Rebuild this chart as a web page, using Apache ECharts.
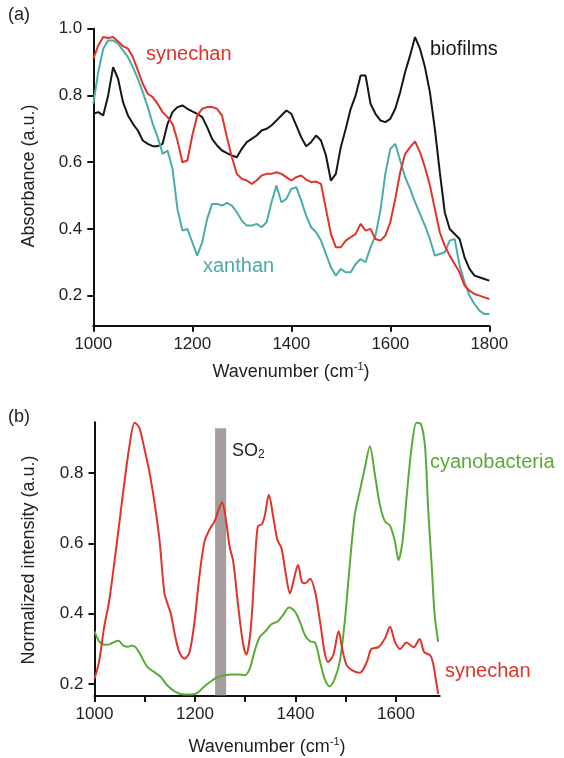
<!DOCTYPE html>
<html>
<head>
<meta charset="UTF-8">
<title>spectra</title>
<script src="https://cdn.jsdelivr.net/npm/echarts@6/dist/echarts.min.js"></script>
<style>
  html, body { margin: 0; padding: 0; background: #fff; }
  #main { width: 564px; height: 758px; }
</style>
</head>
<body>
<div id="main"></div>
<script>
// panel (a): absorbance, sampled every 10 cm-1
var absWn = [1000,1010,1020,1030,1040,1050,1060,1070,1080,1090,
  1100,1110,1120,1130,1140,1150,1160,1170,1180,1190,
  1200,1210,1220,1230,1240,1250,1260,1270,1280,1290,
  1300,1310,1320,1330,1340,1350,1360,1370,1380,1390,
  1400,1410,1420,1430,1440,1450,1460,1470,1480,1490,
  1500,1510,1520,1530,1540,1550,1560,1570,1580,1590,
  1600,1610,1620,1630,1640,1650,1660,1670,1680,1690,
  1700,1710,1720,1730,1740,1750,1760,1770,1780,1790,1800];
var biofilms = [0.745,0.75,0.74,0.80,0.885,0.85,0.78,0.74,0.715,0.695,
  0.665,0.655,0.648,0.648,0.655,0.715,0.75,0.765,0.77,0.76,
  0.752,0.745,0.735,0.705,0.67,0.65,0.635,0.627,0.62,0.615,
  0.64,0.66,0.67,0.68,0.695,0.70,0.71,0.725,0.74,0.755,
  0.745,0.71,0.675,0.648,0.66,0.68,0.665,0.62,0.545,0.565,
  0.645,0.70,0.76,0.80,0.86,0.86,0.775,0.745,0.725,0.72,
  0.73,0.76,0.81,0.87,0.92,0.975,0.94,0.885,0.81,0.70,
  0.57,0.45,0.40,0.385,0.37,0.315,0.28,0.26,0.255,0.25,0.245];
var synechanA = [0.91,0.95,0.975,0.972,0.975,0.962,0.948,0.94,0.915,0.875,
  0.835,0.805,0.795,0.775,0.75,0.735,0.715,0.665,0.60,0.605,
  0.68,0.74,0.76,0.765,0.765,0.76,0.74,0.675,0.615,0.565,
  0.55,0.545,0.535,0.545,0.56,0.565,0.565,0.57,0.565,0.555,
  0.545,0.555,0.56,0.548,0.54,0.542,0.535,0.46,0.385,0.345,
  0.345,0.365,0.375,0.385,0.415,0.395,0.40,0.37,0.365,0.38,
  0.42,0.49,0.57,0.625,0.645,0.662,0.63,0.585,0.53,0.46,
  0.39,0.35,0.32,0.295,0.27,0.23,0.215,0.205,0.20,0.195,0.19];
var xanthan = [0.775,0.87,0.94,0.965,0.965,0.955,0.935,0.915,0.885,0.85,
  0.81,0.765,0.715,0.675,0.625,0.635,0.58,0.46,0.395,0.40,
  0.36,0.32,0.36,0.43,0.475,0.475,0.47,0.478,0.47,0.45,
  0.425,0.41,0.41,0.415,0.405,0.42,0.48,0.53,0.48,0.49,
  0.52,0.525,0.485,0.44,0.405,0.39,0.365,0.325,0.285,0.26,
  0.28,0.27,0.27,0.295,0.31,0.30,0.345,0.38,0.455,0.565,
  0.64,0.655,0.605,0.555,0.52,0.48,0.445,0.41,0.37,0.32,
  0.325,0.33,0.365,0.37,0.29,0.24,0.20,0.175,0.155,0.145,0.145];

// panel (b): normalized intensity, read at uneven positions
var synechanBWn = [1000,1009,1019,1029,1039,1049,1059,1069,1080,1089,1099,1109,1119,1129,1139,1145,1152,1160,1169,1179,1189,1199,1209,1219,1229,1239,1248,1254,1262,1269,1276,1285,1295,1302,1311,1319,1325,1333,1339,1347,1355,1364,1372,1380,1389,1397,1405,1413,1420,1429,1439,1449,1458,1465,1475,1486,1493,1502,1513,1528,1542,1551,1565,1578,1588,1598,1608,1621,1635,1647,1656,1668,1674,1679,1684];
var synechanB = [0.215,0.263,0.36,0.435,0.54,0.653,0.768,0.872,0.944,0.93,0.872,0.806,0.72,0.615,0.46,0.43,0.40,0.34,0.29,0.272,0.29,0.377,0.51,0.606,0.64,0.663,0.70,0.718,0.663,0.59,0.55,0.434,0.32,0.284,0.358,0.54,0.649,0.655,0.68,0.739,0.682,0.61,0.587,0.52,0.458,0.50,0.539,0.49,0.487,0.50,0.463,0.377,0.29,0.263,0.282,0.35,0.30,0.253,0.239,0.232,0.263,0.30,0.305,0.33,0.363,0.32,0.30,0.318,0.305,0.328,0.291,0.282,0.258,0.215,0.172];
var cyanoWn = [1000,1010,1020,1030,1040,1048,1057,1066,1075,1083,1092,1105,1119,1132,1145,1162,1179,1192,1205,1219,1232,1245,1259,1272,1289,1299,1309,1319,1329,1342,1352,1365,1375,1387,1399,1409,1419,1429,1439,1449,1458,1468,1478,1488,1498,1508,1518,1528,1538,1548,1558,1568,1578,1588,1598,1605,1613,1621,1631,1641,1650,1658,1664,1671,1677,1684];
var cyano = [0.35,0.32,0.312,0.313,0.32,0.323,0.31,0.306,0.31,0.303,0.282,0.249,0.234,0.22,0.196,0.177,0.17,0.17,0.175,0.194,0.208,0.22,0.225,0.227,0.227,0.225,0.244,0.296,0.334,0.353,0.37,0.379,0.396,0.418,0.406,0.377,0.339,0.322,0.318,0.263,0.215,0.194,0.215,0.263,0.377,0.539,0.682,0.749,0.815,0.877,0.796,0.71,0.663,0.651,0.606,0.553,0.606,0.73,0.872,0.944,0.939,0.872,0.70,0.539,0.396,0.32];
var so2Band = [1240, 1262];
var so2Top = 0.928;

var absTicks = [0.2, 0.4, 0.6, 0.8, 1.0];
var normTicks = [0.2, 0.4, 0.6, 0.8];
var wnLabelsB = [1000, 1200, 1400, 1600];
var wnTicksB = [1000, 1100, 1200, 1300, 1400, 1500, 1600];

function pairs(xs, ys) {
  return xs.map(function (x, i) { return [x, ys[i]]; });
}

var FONT = 'Liberation Sans, Arial, sans-serif';
var RED = '#e1332a', BLACK = '#161616', CYAN = '#4aaca8', GREEN = '#5aab36';
var axisLine = { show: true, onZero: false, lineStyle: { color: '#111', width: 2 } };
var axisTick = { show: true, inside: false, length: 6, lineStyle: { color: '#111', width: 2 } };
var tickLabel = { color: '#222', fontSize: 17, fontFamily: FONT };
var plain = function (v) { return String(v); };
var oneDec = function (v) { return v.toFixed(1); };

var chart = echarts.init(document.getElementById('main'));
var option = {
  backgroundColor: '#fff',
  animation: false,
  grid: [
    { left: 93.3, top: 28.7, width: 396, height: 297, outerBoundsMode: 'none', containLabel: false },
    { left: 94.5, top: 422.3, width: 345.2, height: 273.7, outerBoundsMode: 'none', containLabel: false }
  ],
  xAxis: [
    { gridIndex: 0, type: 'value', min: 1000, max: 1800, interval: 200,
      axisLine: axisLine, axisTick: axisTick, splitLine: { show: false },
      axisLabel: Object.assign({ margin: 10, formatter: plain }, tickLabel) },
    { gridIndex: 1, type: 'value', min: 1000, max: 1687,
      axisLine: axisLine, splitLine: { show: false },
      axisTick: Object.assign({ customValues: wnTicksB }, axisTick),
      axisLabel: Object.assign({ margin: 10, customValues: wnLabelsB, formatter: plain }, tickLabel) }
  ],
  yAxis: [
    { gridIndex: 0, type: 'value', min: 0.11, max: 1.0,
      axisLine: axisLine, splitLine: { show: false },
      axisTick: Object.assign({ customValues: absTicks }, axisTick),
      axisLabel: Object.assign({ margin: 11, customValues: absTicks, formatter: oneDec }, tickLabel) },
    { gridIndex: 1, type: 'value', min: 0.166, max: 0.945,
      axisLine: axisLine, splitLine: { show: false },
      axisTick: Object.assign({ customValues: normTicks }, axisTick),
      axisLabel: Object.assign({ margin: 11, customValues: normTicks, formatter: oneDec }, tickLabel) }
  ],
  series: [
    { name: 'biofilms', type: 'line', xAxisIndex: 0, yAxisIndex: 0, showSymbol: false,
      lineStyle: { color: BLACK, width: 2 }, data: pairs(absWn, biofilms) },
    { name: 'xanthan', type: 'line', xAxisIndex: 0, yAxisIndex: 0, showSymbol: false,
      lineStyle: { color: CYAN, width: 2 }, data: pairs(absWn, xanthan) },
    { name: 'synechan', type: 'line', xAxisIndex: 0, yAxisIndex: 0, showSymbol: false,
      lineStyle: { color: RED, width: 2 }, data: pairs(absWn, synechanA) },
    { name: 'cyanobacteria', type: 'line', xAxisIndex: 1, yAxisIndex: 1, showSymbol: false,
      smooth: 0.3, lineStyle: { color: GREEN, width: 2 }, data: pairs(cyanoWn, cyano) },
    { name: 'synechan b', type: 'line', xAxisIndex: 1, yAxisIndex: 1, showSymbol: false,
      smooth: 0.3, lineStyle: { color: RED, width: 2 }, data: pairs(synechanBWn, synechanB) },
    { name: 'SO2', type: 'line', xAxisIndex: 1, yAxisIndex: 1, z: 10, data: [],
      markArea: { silent: true, itemStyle: { color: 'rgba(110,96,96,0.62)' },
        data: [[{ coord: [so2Band[0], so2Top] }, { coord: [so2Band[1], 0.166] }]] } }
  ],
  graphic: [
    { type: 'text', left: 8, top: 6, style: { text: '(a)', fontSize: 18, fontFamily: FONT, fill: '#222' } },
    { type: 'text', left: 8, top: 408, style: { text: '(b)', fontSize: 18, fontFamily: FONT, fill: '#222' } },
    { type: 'text', x: 29, y: 176, rotation: Math.PI / 2,
      style: { text: 'Absorbance (a.u.)', fontSize: 18, fontFamily: FONT, fill: '#222', align: 'center', verticalAlign: 'middle' } },
    { type: 'text', x: 29, y: 560, rotation: Math.PI / 2,
      style: { text: 'Normalized intensity (a.u.)', fontSize: 18, fontFamily: FONT, fill: '#222', align: 'center', verticalAlign: 'middle' } },
    { type: 'text', x: 291, y: 372,
      style: { text: 'Wavenumber (cm{s|-1})', fontSize: 18, fontFamily: FONT, fill: '#222', align: 'center', verticalAlign: 'middle',
        rich: { s: { fontSize: 11, fontFamily: FONT, fill: '#222', padding: [0, 0, 10, 0] } } } },
    { type: 'text', x: 267, y: 747,
      style: { text: 'Wavenumber (cm{s|-1})', fontSize: 18, fontFamily: FONT, fill: '#222', align: 'center', verticalAlign: 'middle',
        rich: { s: { fontSize: 11, fontFamily: FONT, fill: '#222', padding: [0, 0, 10, 0] } } } },
    { type: 'text', left: 146, top: 44, style: { text: 'synechan', fontSize: 20, fontFamily: FONT, fill: RED } },
    { type: 'text', left: 430, top: 39, style: { text: 'biofilms', fontSize: 20, fontFamily: FONT, fill: BLACK } },
    { type: 'text', left: 203, top: 256, style: { text: 'xanthan', fontSize: 20, fontFamily: FONT, fill: CYAN } },
    { type: 'text', left: 430, top: 452, style: { text: 'cyanobacteria', fontSize: 20, fontFamily: FONT, fill: GREEN } },
    { type: 'text', left: 445, top: 661, style: { text: 'synechan', fontSize: 20, fontFamily: FONT, fill: RED } },
    { type: 'text', left: 232, top: 442,
      style: { text: 'SO{s|2}', fontSize: 18, fontFamily: FONT, fill: '#222',
        rich: { s: { fontSize: 12, fontFamily: FONT, fill: '#222', padding: [8, 0, 0, 0] } } } }
  ]
};
chart.setOption(option);
</script>
</body>
</html>
